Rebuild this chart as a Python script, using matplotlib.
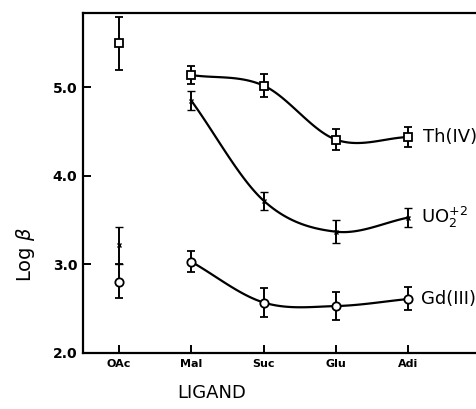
import numpy as np
import matplotlib
matplotlib.use("Agg")
import matplotlib.pyplot as plt

# ligands on the x axis
ligands = ["OAc", "Mal", "Suc", "Glu", "Adi"]

# log beta values (OAc, Mal, Suc, Glu, Adi)
th_vals = [5.50, 5.14, 5.02, 4.41, 4.44]
th_err = [0.30, 0.10, 0.13, 0.12, 0.11]

uo2_vals = [3.22, 4.85, 3.72, 3.37, 3.53]
uo2_err_lo = [0.22, 0.11, 0.10, 0.13, 0.11]
uo2_err_hi = [0.20, 0.11, 0.10, 0.13, 0.11]

gd_vals = [2.80, 3.03, 2.57, 2.53, 2.61]
gd_err_lo = [0.18, 0.12, 0.16, 0.16, 0.13]
gd_err_hi = [0.20, 0.12, 0.16, 0.16, 0.13]


def smooth(x, y, n=30):
    """Catmull-Rom style cubic Hermite curve through the points"""
    x = np.asarray(x, float)
    y = np.asarray(y, float)
    m = np.gradient(y, x)
    xs, ys = [], []
    for i in range(len(x) - 1):
        h = x[i + 1] - x[i]
        t = np.linspace(0, 1, n)
        h00 = 2*t**3 - 3*t**2 + 1
        h10 = t**3 - 2*t**2 + t
        h01 = -2*t**3 + 3*t**2
        h11 = t**3 - t**2
        xs.append(x[i] + t*h)
        ys.append(h00*y[i] + h10*h*m[i] + h01*y[i+1] + h11*h*m[i+1])
    return np.concatenate(xs), np.concatenate(ys)


xpos = np.arange(len(ligands))

fig = plt.figure(figsize=(4.76, 4.09), dpi=100)
ax = fig.add_axes([0.174, 0.137, 0.83, 0.831])

ebkw = dict(color="black", ecolor="black", elinewidth=1.4, capsize=3,
            capthick=1.4, linestyle="none")

ax.errorbar(xpos, th_vals, yerr=th_err, marker="s", ms=6, mfc="white",
            mec="black", mew=1.3, **ebkw)
ax.errorbar(xpos, uo2_vals, yerr=[uo2_err_lo, uo2_err_hi], marker="x", ms=3.5,
            mew=1.0, **ebkw)
ax.errorbar(xpos, gd_vals, yerr=[gd_err_lo, gd_err_hi], marker="o", ms=6,
            mfc="white", mec="black", mew=1.3, **ebkw)

# smooth curves through the dicarboxylate points
for vals in (th_vals, uo2_vals, gd_vals):
    cx, cy = smooth(xpos[1:], vals[1:])
    ax.plot(cx, cy, color="black", lw=1.6, zorder=1)

ax.text(xpos[-1] + 0.2, th_vals[-1], "Th(IV)", fontsize=13, va="center")
ax.text(xpos[-1] + 0.17, uo2_vals[-1], "UO$_2^{+2}$", fontsize=13, va="center")
ax.text(xpos[-1] + 0.17, gd_vals[-1], "Gd(III)", fontsize=13, va="center")

ax.set_xlim(-0.5, 4.96)
ax.set_ylim(2.0, 5.84)
ax.set_xticks(xpos)
ax.set_xticklabels(ligands, fontsize=8, fontweight="bold")
ax.set_yticks([2.0, 3.0, 4.0, 5.0])
ax.set_yticklabels(["2.0", "3.0", "4.0", "5.0"], fontsize=10, fontweight="bold")
ax.tick_params(direction="in", length=6, width=1.4, pad=4)

ax.spines["right"].set_visible(False)
for s in ("left", "bottom", "top"):
    ax.spines[s].set_linewidth(1.6)

ax.set_xlabel("LIGAND", fontsize=13, labelpad=10)
ax.xaxis.set_label_coords(0.326, -0.09)
ax.set_ylabel(r"Log $\beta$", fontsize=14)
ax.yaxis.set_label_coords(-0.115, 0.29)

fig.savefig("out.png", dpi=100)
